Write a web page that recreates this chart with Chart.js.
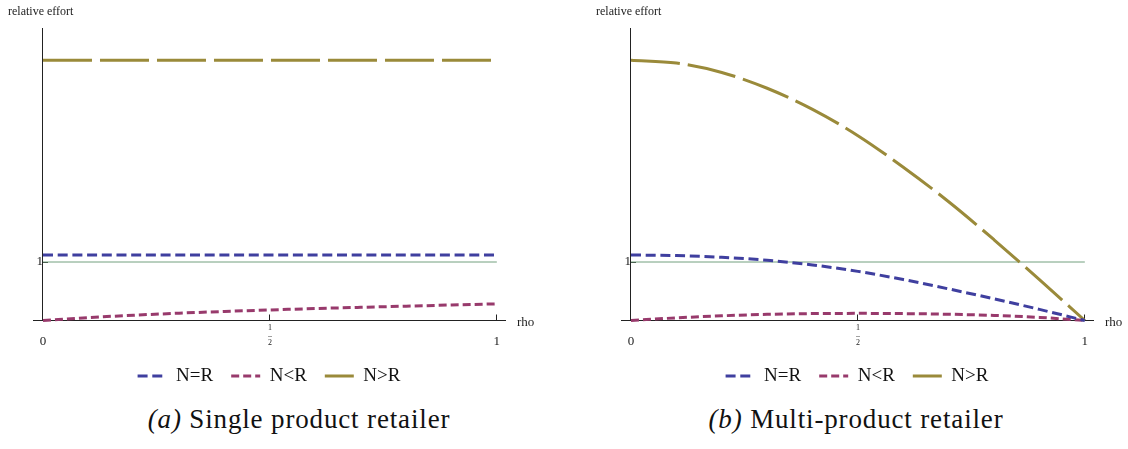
<!DOCTYPE html>
<html>
<head>
<meta charset="utf-8">
<script src="https://cdn.jsdelivr.net/npm/chart.js@4.4.1/dist/chart.umd.min.js"></script>
<style>
  html, body { margin: 0; padding: 0; background: #fff; }
  body { width: 1128px; height: 449px; position: relative; overflow: hidden; }
  .panel { position: absolute; top: 0; width: 540px; height: 400px; }
  #panelA { left: 0; }
  #panelB { left: 588px; }
  .caption {
    position: absolute; top: 406px;
    font-family: "Liberation Serif", "Times New Roman", Times, "DejaVu Serif", serif;
    font-size: 27px; line-height: 27px;
    letter-spacing: 0.85px; white-space: nowrap; color: #111;
    transform: translateX(-50%);
  }
  #capA { left: 299px; }
  #capB { left: 856px; }
</style>
</head>
<body>
<div class="panel" id="panelA"><canvas id="chartA" width="540" height="400"></canvas></div>
<div class="panel" id="panelB"><canvas id="chartB" width="540" height="400"></canvas></div>
<div class="caption" id="capA"><i>(a)</i> Single product retailer</div>
<div class="caption" id="capB"><i>(b)</i> Multi-product retailer</div>

<script>
// rho grid shared by every curve
const rho = [0, 0.1, 0.2, 0.3, 0.4, 0.5, 0.6, 0.7, 0.8, 0.9, 1];

// (a) single product retailer
const singleEqual   = [1.12, 1.12, 1.12, 1.12, 1.12, 1.12, 1.12, 1.12, 1.12, 1.12, 1.12];
const singleFewer   = [0, 0.05, 0.09, 0.125, 0.155, 0.18, 0.205, 0.225, 0.245, 0.265, 0.285];
const singleGreater = [4.45, 4.45, 4.45, 4.45, 4.45, 4.45, 4.45, 4.45, 4.45, 4.45, 4.45];

// (b) multi-product retailer
const multiEqual   = [1.12, 1.11, 1.08, 1.03, 0.95, 0.84, 0.70, 0.54, 0.37, 0.19, 0];
const multiFewer   = [0, 0.045, 0.08, 0.105, 0.118, 0.122, 0.118, 0.107, 0.087, 0.053, 0];
const multiGreater = [4.45, 4.40, 4.24, 3.97, 3.61, 3.16, 2.62, 2.03, 1.38, 0.70, 0];

const seriesNames = ['N=R', 'N<R', 'N>R'];
const referenceLevel = 1;

const xTickValues = [0, 0.5, 1];
const xTickLabels = ['0', ['1', '\u2013', '2'], '1'];
const yTickValues = [1];
const yTickLabels = ['1'];

const SERIF = '"Liberation Serif", "Times New Roman", Times, "DejaVu Serif", serif';
const AXIS = '#222';
const seriesStyles = [
  { color: '#3f3f9f', dash: [10, 4.7] },
  { color: '#983a6c', dash: [8, 4] },
  { color: '#9a8a3a', dash: [49, 8] }
];

Chart.defaults.font.family = SERIF;
Chart.defaults.color = AXIS;

function curve(label, values, style) {
  return {
    label,
    data: rho.map((r, i) => ({ x: r, y: values[i] })),
    borderColor: style.color,
    backgroundColor: style.color,
    borderWidth: 3,
    borderDash: style.dash,
    borderCapStyle: 'butt',
    pointRadius: 0,
    fill: false,
    cubicInterpolationMode: 'monotone',
    clip: false
  };
}

// legend samples carry each curve's own dash pattern and weight
function legendItems(chart) {
  const items = Chart.defaults.plugins.legend.labels.generateLabels(chart);
  items.forEach(it => {
    const ds = chart.data.datasets[it.datasetIndex];
    it.lineDash = ds.borderDash || [];
    it.lineWidth = ds.borderWidth;
    it.strokeStyle = ds.borderColor;
    it.fillStyle = ds.borderColor;
    it.lineCap = 'butt';
  });
  return items.filter(it => it.datasetIndex < seriesNames.length);
}

// axis captions placed relative to the drawn axes
const axisCaptions = {
  id: 'axisCaptions',
  afterDraw(chart) {
    const { ctx, chartArea, scales } = chart;
    const x0 = scales.x.getPixelForValue(0);
    ctx.save();
    ctx.fillStyle = AXIS;
    ctx.font = '12px ' + SERIF;
    ctx.textAlign = 'left';
    ctx.textBaseline = 'middle';
    ctx.fillText('relative effort', x0 - 35, 12);
    ctx.font = '13px ' + SERIF;
    ctx.fillText('rho', chartArea.right + 12, chartArea.bottom + 2);
    ctx.restore();
  }
};

function makeChart(id, equal, fewer, greater) {
  const datasets = [
    curve(seriesNames[0], equal, seriesStyles[0]),
    curve(seriesNames[1], fewer, seriesStyles[1]),
    curve(seriesNames[2], greater, seriesStyles[2]),
    {
      label: '',
      data: [{ x: 0, y: referenceLevel }, { x: 1, y: referenceLevel }],
      borderColor: '#72a07f',
      borderWidth: 1,
      pointRadius: 0,
      fill: false
    }
  ];
  return new Chart(document.getElementById(id), {
    type: 'line',
    data: { datasets },
    plugins: [axisCaptions],
    options: {
      responsive: false,
      animation: false,
      devicePixelRatio: 1,
      layout: { padding: { left: 33, right: 35, top: 28, bottom: 4.5 } },
      plugins: {
        title: { display: false },
        tooltip: { enabled: false },
        legend: {
          display: true,
          position: 'bottom',
          labels: {
            usePointStyle: true,
            pointStyle: 'line',
            pointStyleWidth: 29,
            padding: 18,
            color: '#111',
            font: { family: SERIF, size: 19 },
            generateLabels: legendItems
          }
        }
      },
      scales: {
        x: {
          type: 'linear',
          position: 'bottom',
          min: -0.022,
          max: 1.018,
          afterBuildTicks: s => { s.ticks = xTickValues.map(v => ({ value: v })); },
          afterFit: s => { s.height = 28; },
          ticks: {
            autoSkip: false,
            maxRotation: 0,
            padding: 10,
            color: AXIS,
            callback: (v, i) => xTickLabels[i],
            font: ctx => Array.isArray(xTickLabels[ctx.index])
              ? { family: SERIF, size: 8, lineHeight: '7.3px' }
              : { family: SERIF, size: 13, lineHeight: '34px' }
          },
          grid: { drawOnChartArea: false, drawTicks: true, tickLength: -6, color: AXIS, lineWidth: 1 },
          border: { display: true, color: AXIS, width: 1 }
        },
        y: {
          type: 'linear',
          position: { x: 0 },
          min: 0,
          max: 5,
          afterBuildTicks: s => { s.ticks = yTickValues.map(v => ({ value: v })); },
          ticks: {
            padding: 13,
            color: AXIS,
            font: { family: SERIF, size: 13 },
            callback: (v, i) => yTickLabels[i]
          },
          grid: { drawOnChartArea: false, drawTicks: true, tickLength: -6, color: AXIS, lineWidth: 1 },
          border: { display: true, color: AXIS, width: 1 }
        }
      }
    }
  });
}

makeChart('chartA', singleEqual, singleFewer, singleGreater);
makeChart('chartB', multiEqual, multiFewer, multiGreater);
</script>
</body>
</html>
